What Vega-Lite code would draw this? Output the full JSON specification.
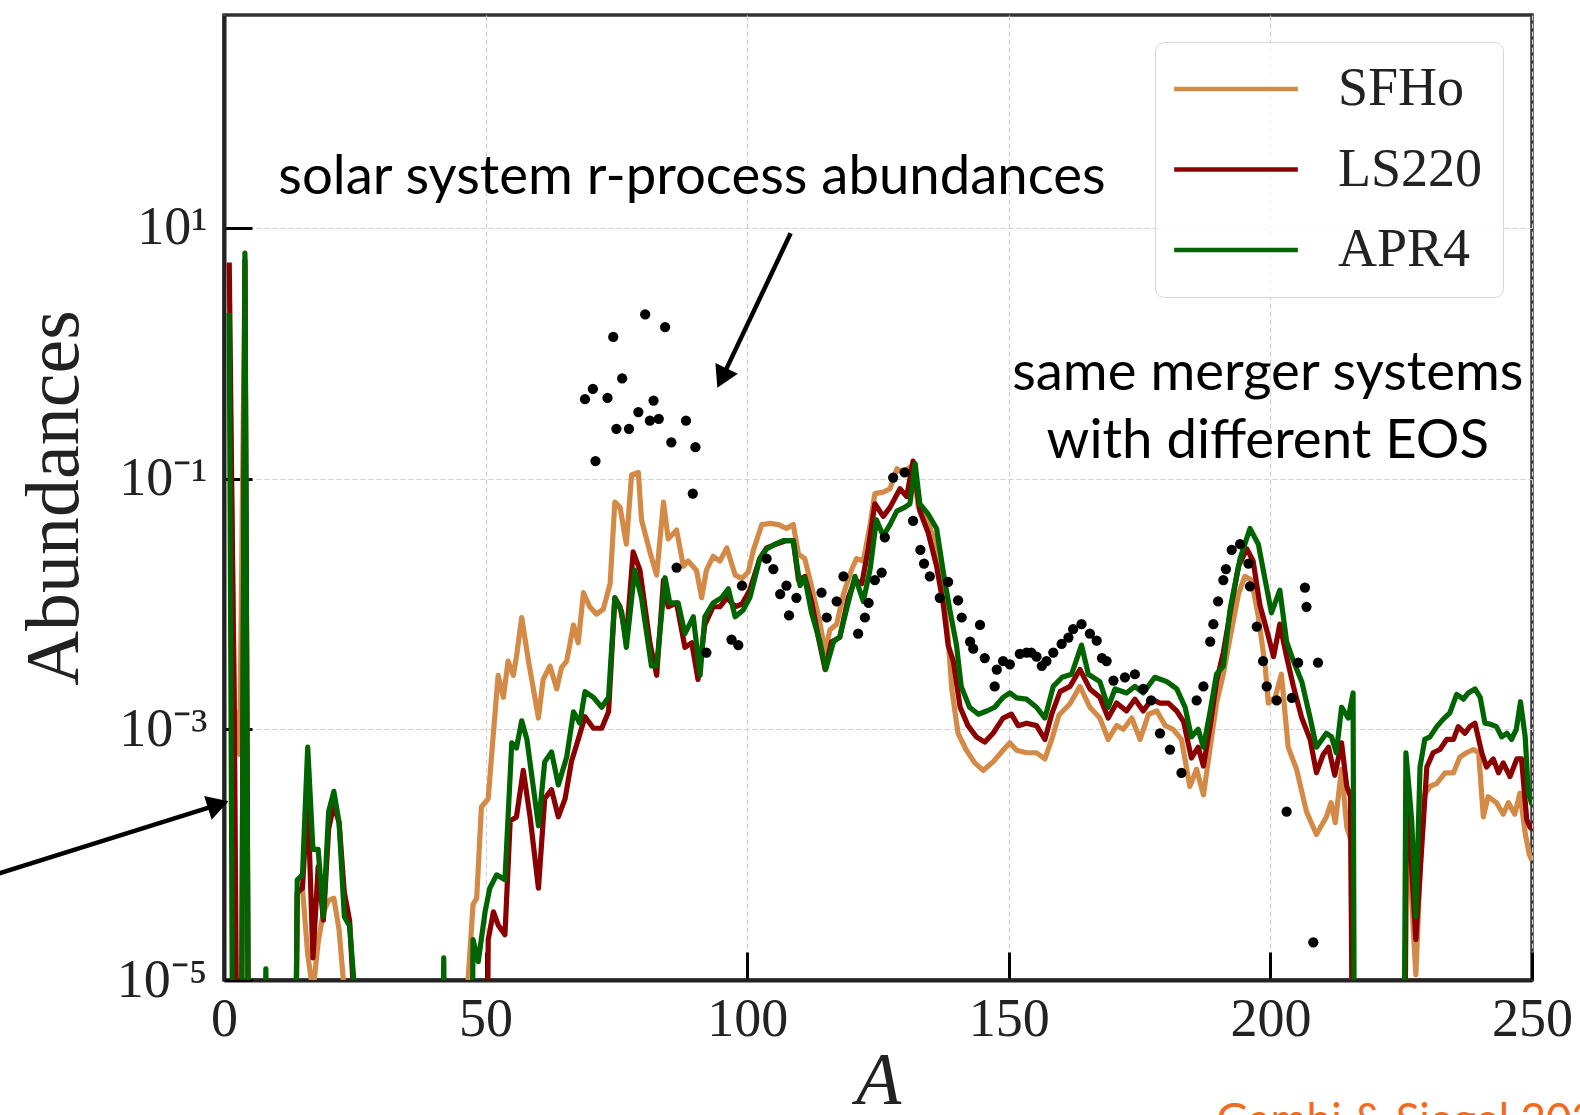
{
  "$schema": "https://vega.github.io/schema/vega-lite/v6.json",
  "width": 1308,
  "height": 965,
  "autosize": {"type": "none"},
  "padding": {"left": 224, "top": 15, "right": 48, "bottom": 135},
  "background": "white",
  "config": {
    "view": {"stroke": "#333333", "strokeWidth": 3.5},
    "axis": {
      "labelFont": "Liberation Serif",
      "titleFont": "Liberation Serif",
      "labelColor": "#222222",
      "titleColor": "#222222",
      "labelFontSize": 54,
      "titleFontWeight": "normal",
      "tickColor": "#000000",
      "tickWidth": 3,
      "tickSize": -28,
      "domainColor": "#222222",
      "domainWidth": 4,
      "gridColor": "#d0d0d0",
      "gridWidth": 1.2,
      "gridDash": [5, 3],
      "labelOverlap": false,
      "labelBound": false
    }
  },
  "datasets": {
    "lines": [
      {"s":"SFHo","A":1,"v":1.8},{"s":"SFHo","A":2,"v":1.5e-3},{"s":"SFHo","A":3,"v":6.3e-4},{"s":"SFHo","A":4,"v":5.0},{"s":"SFHo","A":5,"v":1e-9},
      {"s":"SFHo","A":13,"v":1e-9},{"s":"SFHo","A":14,"v":5e-5},{"s":"SFHo","A":15,"v":5.4e-5},{"s":"SFHo","A":16,"v":1.6e-5},{"s":"SFHo","A":17,"v":8e-6},{"s":"SFHo","A":18,"v":2e-5},{"s":"SFHo","A":19,"v":3.5e-5},{"s":"SFHo","A":20,"v":4.3e-5},{"s":"SFHo","A":21,"v":4.5e-5},{"s":"SFHo","A":22,"v":2.5e-5},{"s":"SFHo","A":23,"v":8e-6},{"s":"SFHo","A":24,"v":1e-9},
      {"s":"SFHo","A":45.5,"v":1e-9},{"s":"SFHo","A":46.5,"v":8e-6},{"s":"SFHo","A":47.6,"v":4e-5},{"s":"SFHo","A":48.3,"v":4.5e-5},{"s":"SFHo","A":49.2,"v":2.4e-4},{"s":"SFHo","A":50.5,"v":2.8e-4},{"s":"SFHo","A":51.2,"v":6.6e-4},{"s":"SFHo","A":52.4,"v":2.7e-3},{"s":"SFHo","A":53.4,"v":1.8e-3},{"s":"SFHo","A":54.3,"v":3.5e-3},{"s":"SFHo","A":55.3,"v":2.7e-3},{"s":"SFHo","A":55.9,"v":3.8e-3},{"s":"SFHo","A":56.9,"v":7.8e-3},{"s":"SFHo","A":58.2,"v":3.5e-3},{"s":"SFHo","A":60.1,"v":1.23e-3},{"s":"SFHo","A":61.0,"v":2.5e-3},{"s":"SFHo","A":62.3,"v":3.2e-3},{"s":"SFHo","A":63.6,"v":2.1e-3},{"s":"SFHo","A":64.5,"v":3.1e-3},{"s":"SFHo","A":65.5,"v":3.5e-3},{"s":"SFHo","A":66.8,"v":6.8e-3},{"s":"SFHo","A":67.7,"v":4.9e-3},{"s":"SFHo","A":68.7,"v":1.23e-2},{"s":"SFHo","A":69.9,"v":9.5e-3},{"s":"SFHo","A":71.2,"v":8.3e-3},{"s":"SFHo","A":72.5,"v":9.1e-3},{"s":"SFHo","A":73.8,"v":1.45e-2},{"s":"SFHo","A":74.7,"v":6.5e-2},{"s":"SFHo","A":75.7,"v":5.9e-2},{"s":"SFHo","A":76.9,"v":3.0e-2},{"s":"SFHo","A":77.9,"v":1.07e-1},{"s":"SFHo","A":79.2,"v":1.12e-1},{"s":"SFHo","A":79.8,"v":4.7e-2},{"s":"SFHo","A":81.4,"v":2.6e-2},{"s":"SFHo","A":82.7,"v":1.7e-2},{"s":"SFHo","A":84.0,"v":6.5e-2},{"s":"SFHo","A":84.9,"v":3.3e-2},{"s":"SFHo","A":86.5,"v":3.9e-2},{"s":"SFHo","A":87.8,"v":2.0e-2},{"s":"SFHo","A":88.7,"v":2.2e-2},{"s":"SFHo","A":90.3,"v":1.86e-2},{"s":"SFHo","A":91.3,"v":1.12e-2},{"s":"SFHo","A":92.2,"v":1.86e-2},{"s":"SFHo","A":93.5,"v":2.4e-2},{"s":"SFHo","A":94.8,"v":2.2e-2},{"s":"SFHo","A":96.1,"v":2.8e-2},{"s":"SFHo","A":97.7,"v":1.7e-2},{"s":"SFHo","A":99.0,"v":1.6e-2},{"s":"SFHo","A":100.2,"v":1.8e-2},{"s":"SFHo","A":101.2,"v":2.7e-2},{"s":"SFHo","A":102.8,"v":4.3e-2},{"s":"SFHo","A":104.4,"v":4.4e-2},{"s":"SFHo","A":106.0,"v":4.3e-2},{"s":"SFHo","A":107.5,"v":4.0e-2},{"s":"SFHo","A":108.8,"v":4.3e-2},{"s":"SFHo","A":109.8,"v":2.5e-2},{"s":"SFHo","A":111.0,"v":2.3e-2},{"s":"SFHo","A":112.3,"v":1.38e-2},{"s":"SFHo","A":113.9,"v":7.1e-3},{"s":"SFHo","A":114.9,"v":4.1e-3},{"s":"SFHo","A":115.8,"v":6.2e-3},{"s":"SFHo","A":117.1,"v":6.9e-3},{"s":"SFHo","A":118.4,"v":1.2e-2},{"s":"SFHo","A":120.0,"v":1.9e-2},{"s":"SFHo","A":120.9,"v":2.3e-2},{"s":"SFHo","A":122.2,"v":2.2e-2},{"s":"SFHo","A":123.5,"v":4.3e-2},{"s":"SFHo","A":124.4,"v":7.6e-2},{"s":"SFHo","A":126.0,"v":7.8e-2},{"s":"SFHo","A":127.3,"v":8.3e-2},{"s":"SFHo","A":128.6,"v":1.2e-1},{"s":"SFHo","A":129.8,"v":1.12e-1},{"s":"SFHo","A":131.7,"v":1.29e-1},{"s":"SFHo","A":132.7,"v":5.9e-2},{"s":"SFHo","A":134.3,"v":4.9e-2},{"s":"SFHo","A":136.2,"v":2.8e-2},{"s":"SFHo","A":137.5,"v":1.2e-2},{"s":"SFHo","A":138.4,"v":5.4e-3},{"s":"SFHo","A":139.1,"v":2.1e-3},{"s":"SFHo","A":140.3,"v":9.3e-4},{"s":"SFHo","A":141.9,"v":6.8e-4},{"s":"SFHo","A":143.5,"v":5.4e-4},{"s":"SFHo","A":145.1,"v":4.7e-4},{"s":"SFHo","A":147.0,"v":5.5e-4},{"s":"SFHo","A":148.9,"v":6.8e-4},{"s":"SFHo","A":150.2,"v":7.8e-4},{"s":"SFHo","A":151.5,"v":6.8e-4},{"s":"SFHo","A":153.4,"v":6.5e-4},{"s":"SFHo","A":155.3,"v":6.5e-4},{"s":"SFHo","A":156.9,"v":5.8e-4},{"s":"SFHo","A":158.2,"v":8.3e-4},{"s":"SFHo","A":159.6,"v":1.3e-3},{"s":"SFHo","A":161.7,"v":1.6e-3},{"s":"SFHo","A":163.6,"v":2.2e-3},{"s":"SFHo","A":165.5,"v":1.5e-3},{"s":"SFHo","A":167.4,"v":1.23e-3},{"s":"SFHo","A":169.0,"v":8.3e-4},{"s":"SFHo","A":170.6,"v":1.07e-3},{"s":"SFHo","A":171.9,"v":1.0e-3},{"s":"SFHo","A":173.5,"v":1.23e-3},{"s":"SFHo","A":175.1,"v":8.3e-4},{"s":"SFHo","A":176.7,"v":1.32e-3},{"s":"SFHo","A":178.3,"v":1.4e-3},{"s":"SFHo","A":179.9,"v":1.07e-3},{"s":"SFHo","A":181.4,"v":1.0e-3},{"s":"SFHo","A":183.0,"v":8.3e-4},{"s":"SFHo","A":184.6,"v":3.5e-4},{"s":"SFHo","A":185.9,"v":4.8e-4},{"s":"SFHo","A":187.2,"v":3.0e-4},{"s":"SFHo","A":188.5,"v":7.2e-4},{"s":"SFHo","A":189.7,"v":1.62e-3},{"s":"SFHo","A":191.0,"v":2.75e-3},{"s":"SFHo","A":192.3,"v":5.4e-3},{"s":"SFHo","A":193.9,"v":1.2e-2},{"s":"SFHo","A":195.1,"v":1.66e-2},{"s":"SFHo","A":196.4,"v":1.55e-2},{"s":"SFHo","A":197.7,"v":7.9e-3},{"s":"SFHo","A":199.0,"v":3.2e-3},{"s":"SFHo","A":199.6,"v":1.62e-3},{"s":"SFHo","A":200.9,"v":1.8e-3},{"s":"SFHo","A":202.1,"v":2.75e-3},{"s":"SFHo","A":203.4,"v":7.2e-4},{"s":"SFHo","A":205.0,"v":4.8e-4},{"s":"SFHo","A":206.9,"v":2.2e-4},{"s":"SFHo","A":208.8,"v":1.45e-4},{"s":"SFHo","A":210.7,"v":2.0e-4},{"s":"SFHo","A":211.6,"v":2.6e-4},{"s":"SFHo","A":212.4,"v":1.8e-4},{"s":"SFHo","A":213.6,"v":4.8e-4},{"s":"SFHo","A":214.6,"v":1.66e-4},{"s":"SFHo","A":215.4,"v":1.3e-4},{"s":"SFHo","A":216.3,"v":1e-9},
      {"s":"SFHo","A":225.3,"v":1e-9},{"s":"SFHo","A":226.0,"v":2.5e-4},{"s":"SFHo","A":227.8,"v":1.1e-5},{"s":"SFHo","A":229.2,"v":2.9e-4},{"s":"SFHo","A":230.5,"v":3.5e-4},{"s":"SFHo","A":231.8,"v":3.7e-4},{"s":"SFHo","A":233.4,"v":4.5e-4},{"s":"SFHo","A":235.0,"v":4.5e-4},{"s":"SFHo","A":236.2,"v":6.0e-4},{"s":"SFHo","A":237.5,"v":6.5e-4},{"s":"SFHo","A":238.8,"v":6.9e-4},{"s":"SFHo","A":239.8,"v":6.5e-4},{"s":"SFHo","A":240.7,"v":2.0e-4},{"s":"SFHo","A":241.6,"v":2.9e-4},{"s":"SFHo","A":243.2,"v":2.6e-4},{"s":"SFHo","A":244.5,"v":2.1e-4},{"s":"SFHo","A":245.5,"v":2.6e-4},{"s":"SFHo","A":246.7,"v":2.1e-4},{"s":"SFHo","A":247.7,"v":3.1e-4},{"s":"SFHo","A":248.7,"v":1.48e-4},{"s":"SFHo","A":249.5,"v":1.0e-4},{"s":"SFHo","A":250,"v":9e-5},

      {"s":"LS220","A":1,"v":5.3},{"s":"LS220","A":2,"v":1.0e-3},{"s":"LS220","A":3,"v":1e-9},{"s":"LS220","A":4,"v":5.5},{"s":"LS220","A":5,"v":1e-9},
      {"s":"LS220","A":13,"v":1e-9},{"s":"LS220","A":14,"v":5e-5},{"s":"LS220","A":15,"v":5.4e-5},{"s":"LS220","A":16,"v":3e-4},{"s":"LS220","A":17,"v":1.5e-5},{"s":"LS220","A":18,"v":8e-5},{"s":"LS220","A":19,"v":3e-5},{"s":"LS220","A":20,"v":1.6e-4},{"s":"LS220","A":21,"v":2.5e-4},{"s":"LS220","A":22,"v":1.8e-4},{"s":"LS220","A":23,"v":5e-5},{"s":"LS220","A":24,"v":3e-5},{"s":"LS220","A":25,"v":5e-6},{"s":"LS220","A":26,"v":1e-9},
      {"s":"LS220","A":49.8,"v":1e-9},{"s":"LS220","A":50.5,"v":2.1e-5},{"s":"LS220","A":51.5,"v":3.5e-5},{"s":"LS220","A":52.4,"v":2.75e-5},{"s":"LS220","A":53.7,"v":2.3e-5},{"s":"LS220","A":54.7,"v":1.86e-4},{"s":"LS220","A":55.9,"v":2.0e-4},{"s":"LS220","A":57.2,"v":4.7e-4},{"s":"LS220","A":58.5,"v":2.0e-4},{"s":"LS220","A":60.1,"v":5.4e-5},{"s":"LS220","A":61.3,"v":2.8e-4},{"s":"LS220","A":62.6,"v":3.3e-4},{"s":"LS220","A":63.9,"v":2.0e-4},{"s":"LS220","A":65.2,"v":2.8e-4},{"s":"LS220","A":66.4,"v":5.5e-4},{"s":"LS220","A":67.7,"v":8.3e-4},{"s":"LS220","A":69.0,"v":1.26e-3},{"s":"LS220","A":70.6,"v":1.02e-3},{"s":"LS220","A":72.2,"v":1.02e-3},{"s":"LS220","A":73.5,"v":1.38e-3},{"s":"LS220","A":74.7,"v":1.12e-2},{"s":"LS220","A":75.7,"v":9.5e-3},{"s":"LS220","A":76.9,"v":5.2e-3},{"s":"LS220","A":78.2,"v":2.6e-2},{"s":"LS220","A":79.5,"v":1.86e-2},{"s":"LS220","A":81.4,"v":4.9e-3},{"s":"LS220","A":82.7,"v":2.7e-3},{"s":"LS220","A":84.0,"v":1.55e-2},{"s":"LS220","A":84.9,"v":9.5e-3},{"s":"LS220","A":86.5,"v":1.02e-2},{"s":"LS220","A":88.1,"v":4.5e-3},{"s":"LS220","A":89.4,"v":4.9e-3},{"s":"LS220","A":90.6,"v":2.5e-3},{"s":"LS220","A":91.9,"v":6.8e-3},{"s":"LS220","A":93.5,"v":9.5e-3},{"s":"LS220","A":94.8,"v":9.5e-3},{"s":"LS220","A":96.1,"v":1.12e-2},{"s":"LS220","A":97.7,"v":9.5e-3},{"s":"LS220","A":99.0,"v":1.0e-2},{"s":"LS220","A":100.5,"v":1.29e-2},{"s":"LS220","A":102.4,"v":2.3e-2},{"s":"LS220","A":103.7,"v":2.8e-2},{"s":"LS220","A":105.6,"v":3.0e-2},{"s":"LS220","A":107.5,"v":3.2e-2},{"s":"LS220","A":108.8,"v":3.2e-2},{"s":"LS220","A":109.8,"v":1.55e-2},{"s":"LS220","A":111.0,"v":1.66e-2},{"s":"LS220","A":112.3,"v":1.05e-2},{"s":"LS220","A":113.6,"v":5.4e-3},{"s":"LS220","A":114.9,"v":3.0e-3},{"s":"LS220","A":116.1,"v":5.0e-3},{"s":"LS220","A":117.7,"v":5.4e-3},{"s":"LS220","A":119.3,"v":1.12e-2},{"s":"LS220","A":120.6,"v":1.55e-2},{"s":"LS220","A":121.9,"v":1.45e-2},{"s":"LS220","A":123.1,"v":2.7e-2},{"s":"LS220","A":124.4,"v":6.3e-2},{"s":"LS220","A":126.0,"v":5.0e-2},{"s":"LS220","A":127.3,"v":5.9e-2},{"s":"LS220","A":129.2,"v":8.3e-2},{"s":"LS220","A":130.5,"v":7.2e-2},{"s":"LS220","A":131.7,"v":1.38e-1},{"s":"LS220","A":133.0,"v":5.5e-2},{"s":"LS220","A":134.6,"v":3.7e-2},{"s":"LS220","A":136.2,"v":2.0e-2},{"s":"LS220","A":137.5,"v":9.8e-3},{"s":"LS220","A":138.4,"v":4.7e-3},{"s":"LS220","A":139.4,"v":3.5e-3},{"s":"LS220","A":140.7,"v":1.5e-3},{"s":"LS220","A":142.2,"v":1.07e-3},{"s":"LS220","A":143.8,"v":8.7e-4},{"s":"LS220","A":145.4,"v":7.9e-4},{"s":"LS220","A":147.0,"v":9.3e-4},{"s":"LS220","A":148.9,"v":1.23e-3},{"s":"LS220","A":150.5,"v":1.32e-3},{"s":"LS220","A":151.8,"v":1.07e-3},{"s":"LS220","A":153.4,"v":1.12e-3},{"s":"LS220","A":155.3,"v":1.07e-3},{"s":"LS220","A":156.9,"v":8.3e-4},{"s":"LS220","A":158.2,"v":1.32e-3},{"s":"LS220","A":159.8,"v":2.0e-3},{"s":"LS220","A":161.7,"v":2.2e-3},{"s":"LS220","A":163.6,"v":3.0e-3},{"s":"LS220","A":165.5,"v":2.1e-3},{"s":"LS220","A":167.4,"v":1.8e-3},{"s":"LS220","A":169.0,"v":1.23e-3},{"s":"LS220","A":170.6,"v":1.62e-3},{"s":"LS220","A":172.5,"v":1.4e-3},{"s":"LS220","A":174.1,"v":1.74e-3},{"s":"LS220","A":175.7,"v":1.4e-3},{"s":"LS220","A":177.3,"v":1.74e-3},{"s":"LS220","A":178.9,"v":1.62e-3},{"s":"LS220","A":180.5,"v":1.62e-3},{"s":"LS220","A":182.1,"v":1.4e-3},{"s":"LS220","A":183.4,"v":1.15e-3},{"s":"LS220","A":184.9,"v":5.9e-4},{"s":"LS220","A":186.2,"v":7.2e-4},{"s":"LS220","A":187.2,"v":5.1e-4},{"s":"LS220","A":188.5,"v":1.07e-3},{"s":"LS220","A":189.7,"v":2.4e-3},{"s":"LS220","A":191.0,"v":4.1e-3},{"s":"LS220","A":192.3,"v":8.5e-3},{"s":"LS220","A":193.9,"v":2.0e-2},{"s":"LS220","A":195.5,"v":2.75e-2},{"s":"LS220","A":196.7,"v":2.2e-2},{"s":"LS220","A":198.0,"v":9.8e-3},{"s":"LS220","A":199.3,"v":6.2e-3},{"s":"LS220","A":200.6,"v":3.8e-3},{"s":"LS220","A":201.8,"v":6.9e-3},{"s":"LS220","A":203.1,"v":3.8e-3},{"s":"LS220","A":204.4,"v":2.2e-3},{"s":"LS220","A":206.0,"v":1.23e-3},{"s":"LS220","A":207.6,"v":8.3e-4},{"s":"LS220","A":208.8,"v":4.5e-4},{"s":"LS220","A":210.1,"v":6.3e-4},{"s":"LS220","A":211.1,"v":7.2e-4},{"s":"LS220","A":212.3,"v":4.3e-4},{"s":"LS220","A":213.6,"v":7.8e-4},{"s":"LS220","A":214.6,"v":3.5e-4},{"s":"LS220","A":215.3,"v":2.9e-4},{"s":"LS220","A":216.3,"v":1e-9},
      {"s":"LS220","A":225.3,"v":1e-9},{"s":"LS220","A":226.0,"v":4e-4},{"s":"LS220","A":227.8,"v":2.1e-5},{"s":"LS220","A":229.9,"v":5.0e-4},{"s":"LS220","A":231.1,"v":6.5e-4},{"s":"LS220","A":232.4,"v":6.9e-4},{"s":"LS220","A":233.7,"v":8.3e-4},{"s":"LS220","A":235.0,"v":8.3e-4},{"s":"LS220","A":235.9,"v":1.05e-3},{"s":"LS220","A":237.2,"v":9.3e-4},{"s":"LS220","A":238.1,"v":1.05e-3},{"s":"LS220","A":239.1,"v":1.12e-3},{"s":"LS220","A":240.4,"v":6.5e-4},{"s":"LS220","A":241.3,"v":5.0e-4},{"s":"LS220","A":242.6,"v":5.8e-4},{"s":"LS220","A":243.6,"v":4.5e-4},{"s":"LS220","A":244.5,"v":5.4e-4},{"s":"LS220","A":245.8,"v":4.2e-4},{"s":"LS220","A":247.1,"v":5.8e-4},{"s":"LS220","A":248.0,"v":5.8e-4},{"s":"LS220","A":249.0,"v":1.9e-4},{"s":"LS220","A":249.6,"v":1.66e-4},{"s":"LS220","A":250,"v":1.6e-4},

      {"s":"APR4","A":1,"v":2.1},{"s":"APR4","A":2,"v":1e-9},{"s":"APR4","A":3,"v":1e-9},{"s":"APR4","A":4,"v":6.3},{"s":"APR4","A":5,"v":1e-9},{"s":"APR4","A":7,"v":1e-9},{"s":"APR4","A":8,"v":1.23e-5},{"s":"APR4","A":9,"v":1e-9},
      {"s":"APR4","A":13,"v":1e-9},{"s":"APR4","A":14,"v":6.3e-5},{"s":"APR4","A":15,"v":6.9e-5},{"s":"APR4","A":16,"v":7.2e-4},{"s":"APR4","A":17,"v":1.1e-4},{"s":"APR4","A":18,"v":1.1e-4},{"s":"APR4","A":19,"v":3.2e-5},{"s":"APR4","A":20,"v":2.2e-4},{"s":"APR4","A":21,"v":3.2e-4},{"s":"APR4","A":22,"v":1.8e-4},{"s":"APR4","A":23,"v":3.2e-5},{"s":"APR4","A":24,"v":2.7e-5},{"s":"APR4","A":25,"v":8e-6},{"s":"APR4","A":26,"v":1e-9},
      {"s":"APR4","A":41,"v":1e-9},{"s":"APR4","A":42,"v":1.5e-5},{"s":"APR4","A":43,"v":1e-9},
      {"s":"APR4","A":46.8,"v":1e-9},{"s":"APR4","A":47.6,"v":2.1e-5},{"s":"APR4","A":48.6,"v":1.4e-5},{"s":"APR4","A":49.9,"v":3.5e-5},{"s":"APR4","A":50.8,"v":5.4e-5},{"s":"APR4","A":52.1,"v":6.9e-5},{"s":"APR4","A":53.7,"v":6.3e-5},{"s":"APR4","A":55.0,"v":7.8e-4},{"s":"APR4","A":55.9,"v":7.1e-4},{"s":"APR4","A":56.9,"v":1.17e-3},{"s":"APR4","A":57.9,"v":8.3e-4},{"s":"APR4","A":60.1,"v":1.7e-4},{"s":"APR4","A":61.3,"v":5.5e-4},{"s":"APR4","A":62.6,"v":6.6e-4},{"s":"APR4","A":63.9,"v":3.6e-4},{"s":"APR4","A":65.5,"v":6.0e-4},{"s":"APR4","A":66.8,"v":1.38e-3},{"s":"APR4","A":68.0,"v":1.12e-3},{"s":"APR4","A":69.0,"v":2.0e-3},{"s":"APR4","A":70.6,"v":1.8e-3},{"s":"APR4","A":72.2,"v":1.5e-3},{"s":"APR4","A":73.5,"v":1.8e-3},{"s":"APR4","A":74.7,"v":1.12e-2},{"s":"APR4","A":76.0,"v":8.7e-3},{"s":"APR4","A":76.9,"v":4.5e-3},{"s":"APR4","A":78.5,"v":1.86e-2},{"s":"APR4","A":79.8,"v":1.12e-2},{"s":"APR4","A":81.7,"v":3.2e-3},{"s":"APR4","A":82.7,"v":3.2e-3},{"s":"APR4","A":84.3,"v":1.62e-2},{"s":"APR4","A":85.2,"v":1.02e-2},{"s":"APR4","A":86.8,"v":1.02e-2},{"s":"APR4","A":88.1,"v":5.8e-3},{"s":"APR4","A":89.7,"v":7.9e-3},{"s":"APR4","A":91.0,"v":2.7e-3},{"s":"APR4","A":91.9,"v":7.9e-3},{"s":"APR4","A":93.5,"v":1.02e-2},{"s":"APR4","A":95.1,"v":1.12e-2},{"s":"APR4","A":96.4,"v":1.32e-2},{"s":"APR4","A":97.7,"v":7.9e-3},{"s":"APR4","A":99.2,"v":8.9e-3},{"s":"APR4","A":100.5,"v":1.12e-2},{"s":"APR4","A":102.4,"v":2.3e-2},{"s":"APR4","A":103.7,"v":2.75e-2},{"s":"APR4","A":105.3,"v":3.0e-2},{"s":"APR4","A":106.9,"v":3.2e-2},{"s":"APR4","A":108.8,"v":3.2e-2},{"s":"APR4","A":110.1,"v":1.4e-2},{"s":"APR4","A":111.0,"v":1.62e-2},{"s":"APR4","A":112.3,"v":8.5e-3},{"s":"APR4","A":113.9,"v":5.0e-3},{"s":"APR4","A":115.0,"v":3.0e-3},{"s":"APR4","A":116.5,"v":5.0e-3},{"s":"APR4","A":117.7,"v":5.5e-3},{"s":"APR4","A":119.0,"v":9.1e-3},{"s":"APR4","A":120.6,"v":1.66e-2},{"s":"APR4","A":122.2,"v":1.05e-2},{"s":"APR4","A":123.5,"v":1.9e-2},{"s":"APR4","A":124.7,"v":4.7e-2},{"s":"APR4","A":126.0,"v":3.5e-2},{"s":"APR4","A":127.3,"v":4.3e-2},{"s":"APR4","A":128.6,"v":5.5e-2},{"s":"APR4","A":130.1,"v":5.9e-2},{"s":"APR4","A":131.1,"v":6.3e-2},{"s":"APR4","A":132.1,"v":1.32e-1},{"s":"APR4","A":133.0,"v":6.3e-2},{"s":"APR4","A":134.6,"v":5.2e-2},{"s":"APR4","A":136.2,"v":4.0e-2},{"s":"APR4","A":137.5,"v":1.78e-2},{"s":"APR4","A":138.7,"v":9.1e-3},{"s":"APR4","A":140.0,"v":4.7e-3},{"s":"APR4","A":140.9,"v":2.2e-3},{"s":"APR4","A":142.5,"v":1.5e-3},{"s":"APR4","A":144.2,"v":1.32e-3},{"s":"APR4","A":145.8,"v":1.4e-3},{"s":"APR4","A":147.3,"v":1.5e-3},{"s":"APR4","A":148.9,"v":1.8e-3},{"s":"APR4","A":150.2,"v":1.95e-3},{"s":"APR4","A":151.5,"v":1.78e-3},{"s":"APR4","A":153.4,"v":1.74e-3},{"s":"APR4","A":155.3,"v":1.5e-3},{"s":"APR4","A":156.9,"v":1.23e-3},{"s":"APR4","A":158.5,"v":2.2e-3},{"s":"APR4","A":160.2,"v":2.6e-3},{"s":"APR4","A":162.0,"v":2.75e-3},{"s":"APR4","A":163.9,"v":4.7e-3},{"s":"APR4","A":165.2,"v":2.75e-3},{"s":"APR4","A":167.4,"v":2.4e-3},{"s":"APR4","A":169.0,"v":1.5e-3},{"s":"APR4","A":170.3,"v":2.1e-3},{"s":"APR4","A":172.5,"v":1.95e-3},{"s":"APR4","A":174.1,"v":2.2e-3},{"s":"APR4","A":175.7,"v":1.95e-3},{"s":"APR4","A":177.9,"v":2.6e-3},{"s":"APR4","A":180.2,"v":2.4e-3},{"s":"APR4","A":182.1,"v":2.1e-3},{"s":"APR4","A":183.7,"v":1.5e-3},{"s":"APR4","A":184.9,"v":8.7e-4},{"s":"APR4","A":186.2,"v":1.0e-3},{"s":"APR4","A":187.2,"v":7.2e-4},{"s":"APR4","A":188.5,"v":1.4e-3},{"s":"APR4","A":189.7,"v":2.75e-3},{"s":"APR4","A":191.0,"v":3.2e-3},{"s":"APR4","A":192.3,"v":9.1e-3},{"s":"APR4","A":194.2,"v":2.3e-2},{"s":"APR4","A":196.1,"v":4.0e-2},{"s":"APR4","A":197.7,"v":3.0e-2},{"s":"APR4","A":199.0,"v":1.55e-2},{"s":"APR4","A":200.2,"v":8.5e-3},{"s":"APR4","A":201.8,"v":1.29e-2},{"s":"APR4","A":203.1,"v":5.0e-3},{"s":"APR4","A":204.4,"v":3.5e-3},{"s":"APR4","A":206.0,"v":2.4e-3},{"s":"APR4","A":207.6,"v":1.23e-3},{"s":"APR4","A":208.8,"v":7.2e-4},{"s":"APR4","A":210.7,"v":9.3e-4},{"s":"APR4","A":211.7,"v":8.7e-4},{"s":"APR4","A":212.6,"v":6.5e-4},{"s":"APR4","A":213.6,"v":1.5e-3},{"s":"APR4","A":214.9,"v":1.23e-3},{"s":"APR4","A":215.8,"v":1.95e-3},{"s":"APR4","A":216.3,"v":1e-9},
      {"s":"APR4","A":225.1,"v":1e-9},{"s":"APR4","A":225.9,"v":6.5e-4},{"s":"APR4","A":227.0,"v":1.9e-4},{"s":"APR4","A":227.8,"v":3.2e-5},{"s":"APR4","A":228.6,"v":5.0e-4},{"s":"APR4","A":229.5,"v":8.3e-4},{"s":"APR4","A":230.5,"v":8.7e-4},{"s":"APR4","A":231.8,"v":1.05e-3},{"s":"APR4","A":233.0,"v":1.2e-3},{"s":"APR4","A":234.3,"v":1.35e-3},{"s":"APR4","A":235.6,"v":1.9e-3},{"s":"APR4","A":236.9,"v":1.74e-3},{"s":"APR4","A":237.8,"v":1.95e-3},{"s":"APR4","A":239.1,"v":2.1e-3},{"s":"APR4","A":240.1,"v":1.8e-3},{"s":"APR4","A":241.0,"v":1.12e-3},{"s":"APR4","A":242.0,"v":1.1e-3},{"s":"APR4","A":243.2,"v":1.05e-3},{"s":"APR4","A":244.2,"v":8.7e-4},{"s":"APR4","A":245.2,"v":9.3e-4},{"s":"APR4","A":246.1,"v":8.3e-4},{"s":"APR4","A":247.0,"v":1.0e-3},{"s":"APR4","A":247.8,"v":1.66e-3},{"s":"APR4","A":248.7,"v":8.7e-4},{"s":"APR4","A":249.3,"v":3.1e-4},{"s":"APR4","A":250,"v":2.5e-4}
    ],
    "dots": [
      {"A":69,"v":0.43},{"A":70.5,"v":0.52},{"A":71,"v":0.138},{"A":73.3,"v":0.44},{"A":74.4,"v":1.35},{"A":75,"v":0.25},{"A":76.1,"v":0.63},{"A":77.4,"v":0.25},{"A":79.2,"v":0.34},{"A":80.5,"v":2.04},{"A":81.4,"v":0.29},{"A":82.1,"v":0.42},{"A":83.1,"v":0.30},{"A":84.3,"v":1.62},{"A":85.5,"v":0.195},{"A":86.5,"v":0.0195},{"A":88.3,"v":0.29},{"A":89.6,"v":0.076},{"A":90.1,"v":0.178},{"A":92.2,"v":0.0041},{"A":97.0,"v":0.0052},{"A":98.3,"v":0.0047},{"A":99.0,"v":0.014},
      {"A":103.7,"v":0.023},{"A":105.0,"v":0.019},{"A":106.3,"v":0.012},{"A":107.5,"v":0.014},{"A":108.0,"v":0.0081},{"A":109.4,"v":0.0112},{"A":114.2,"v":0.0123},{"A":115.2,"v":0.0078},{"A":117.1,"v":0.0105},{"A":118.4,"v":0.0166},{"A":121.2,"v":0.0058},{"A":122.5,"v":0.0078},{"A":123.2,"v":0.0102},{"A":124.4,"v":0.0155},{"A":125.7,"v":0.0178},{"A":126.3,"v":0.034},{"A":127.9,"v":0.102},{"A":130.1,"v":0.112},{"A":131.7,"v":0.046},{"A":133.1,"v":0.027},{"A":133.8,"v":0.021},{"A":134.9,"v":0.0166},{"A":136.8,"v":0.0112},{"A":138.4,"v":0.015},{"A":140.3,"v":0.0107},{"A":141.0,"v":0.0078},{"A":142.6,"v":0.005},{"A":143.2,"v":0.0044},{"A":144.5,"v":0.0068},{"A":145.4,"v":0.0037},{"A":147.3,"v":0.0022},{"A":147.7,"v":0.003},{"A":148.9,"v":0.0035},{"A":150.2,"v":0.0033},{"A":152.1,"v":0.004},{"A":153.4,"v":0.0041},{"A":154.3,"v":0.0041},{"A":155.3,"v":0.0038},{"A":156.3,"v":0.0032},{"A":157.2,"v":0.0035},{"A":158.5,"v":0.0041},{"A":160.1,"v":0.0048},{"A":161.4,"v":0.0054},{"A":162.3,"v":0.0063},
      {"A":163.9,"v":0.0069},{"A":165.5,"v":0.0058},{"A":166.8,"v":0.0051},{"A":167.8,"v":0.0037},{"A":168.7,"v":0.0035},{"A":170.0,"v":0.00245},{"A":172.2,"v":0.0026},{"A":174.1,"v":0.00275},{"A":175.7,"v":0.0021},{"A":177.2,"v":0.0017},{"A":178.9,"v":0.00093},{"A":180.8,"v":0.00069},{"A":183.0,"v":0.00045},{"A":185.9,"v":0.0017},{"A":187.2,"v":0.0022},{"A":188.5,"v":0.005},{"A":189.1,"v":0.0069},{"A":190.0,"v":0.0105},{"A":191.0,"v":0.0155},{"A":191.5,"v":0.019},{"A":192.6,"v":0.027},{"A":194.2,"v":0.030},{"A":195.8,"v":0.021},{"A":196.1,"v":0.0138},{"A":197.4,"v":0.0066},{"A":198.6,"v":0.0035},{"A":199.3,"v":0.0022},{"A":201.2,"v":0.0017},{"A":203.1,"v":0.00022},{"A":204.1,"v":0.00178},{"A":205.3,"v":0.0034},{"A":206.6,"v":0.0135},{"A":206.9,"v":0.0095},{"A":208.2,"v":2.0e-5},{"A":209.1,"v":0.0034}
    ],
    "notes": [
      {"A":89.45,"v":18.7,"t":"solar system r-process abundances"},
      {"A":199.5,"v":0.505,"t":"same merger systems"},
      {"A":199.5,"v":0.147,"t":"with different EOS"}
    ],
    "credit": [
      {"A":189.7,"v":5.84e-7,"t":"Gambi & Siegel 2022"}
    ],
    "arrows": [
      {"id":1,"A":108.3,"v":9.06},{"id":1,"A":95.18,"v":0.634},
      {"id":2,"A":-43.8,"v":6.9e-5},{"id":2,"A":-1.11,"v":2.51e-4}
    ],
    "heads": [
      {"id":1,"A":95.18,"v":0.634},
      {"id":2,"A":-1.11,"v":2.51e-4}
    ]
  },
  "encoding": {
    "x": {
      "field": "A", "type": "quantitative",
      "scale": {"domain": [0, 250], "nice": false, "zero": false},
      "axis": {
        "values": [0, 50, 100, 150, 200, 250],
        "title": "A",
        "titleFontStyle": "italic",
        "titleFontSize": 74,
        "titleY": 65,
        "labelPadding": 40,
        "labelFlush": false
      }
    },
    "y": {
      "field": "v", "type": "quantitative",
      "scale": {"type": "log", "domain": [1e-5, 500], "nice": false},
      "axis": {
        "values": [1e-5, 0.001, 0.1, 10],
        "labelExpr": "datum.value > 1 ? '10¹' : datum.value > 0.01 ? '10⁻¹' : datum.value > 0.0001 ? '10⁻³' : '10⁻⁵'",
        "title": "Abundances",
        "titleFontSize": 76,
        "titleX": -131,
        "titleY": 482.5,
        "labelPadding": 45
      }
    }
  },
  "layer": [
    {
      "data": {"name": "lines"},
      "mark": {"type": "line", "strokeWidth": 5.2, "clip": true, "strokeJoin": "round"},
      "encoding": {
        "color": {
          "field": "s", "type": "nominal",
          "scale": {"domain": ["SFHo", "LS220", "APR4"], "range": ["#d48a47", "#8b0000", "#006400"]},
          "legend": {
            "title": null,
            "orient": "none",
            "legendX": 931,
            "legendY": 27,
            "labelFont": "Liberation Serif",
            "labelFontSize": 54,
            "labelColor": "#222222",
            "symbolType": "M-3,0H3",
            "symbolSize": 1700,
            "symbolStrokeWidth": 4.5,
            "symbolOffset": 34,
            "labelOffset": 75,
            "rowPadding": 26.5,
            "padding": 20,
            "fillColor": "rgba(255,255,255,0.8)",
            "strokeColor": "#d6d6d6",
            "cornerRadius": 9
          }
        }
      }
    },
    {
      "data": {"name": "dots"},
      "mark": {"type": "point", "filled": true, "color": "#000000", "size": 105, "opacity": 1, "clip": true}
    },
    {
      "data": {"name": "arrows"},
      "mark": {"type": "line", "color": "#000000", "strokeWidth": 4.5, "clip": false},
      "encoding": {"detail": {"field": "id", "type": "nominal"}}
    },
    {
      "data": {"name": "heads"},
      "transform": [{"filter": "datum.id == 1"}],
      "mark": {"type": "point", "shape": "triangle-up", "angle": 205.5, "size": 620, "filled": true, "color": "#000000", "opacity": 1, "clip": false}
    },
    {
      "data": {"name": "heads"},
      "transform": [{"filter": "datum.id == 2"}],
      "mark": {"type": "point", "shape": "triangle-up", "angle": 72.5, "size": 620, "filled": true, "color": "#000000", "opacity": 1, "clip": false}
    },
    {
      "data": {"name": "notes"},
      "mark": {"type": "text", "font": "Lato", "fontSize": 54.5, "align": "center", "baseline": "alphabetic", "color": "#000000", "clip": false},
      "encoding": {"text": {"field": "t", "type": "nominal"}}
    },
    {
      "data": {"name": "credit"},
      "mark": {"type": "text", "font": "Lato", "fontSize": 44, "align": "left", "baseline": "alphabetic", "color": "#f26a1b", "clip": false},
      "encoding": {"text": {"field": "t", "type": "nominal"}}
    }
  ]
}
